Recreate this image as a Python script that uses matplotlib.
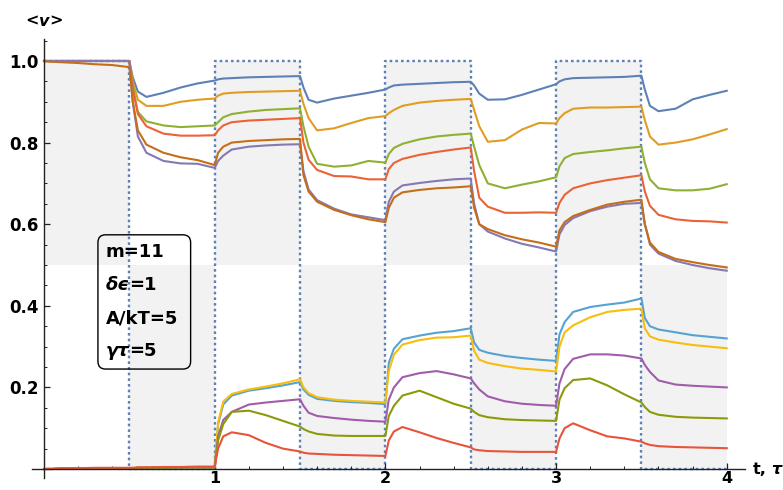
import matplotlib.pyplot as plt
import numpy as np
from matplotlib.patches import FancyBboxPatch

plt.rcParams['font.family'] = ['DejaVu Sans']
plt.rcParams['font.weight'] = 'bold'

# sample times shared by every curve
t = [0, .02, .05, .1, .2, .3, .4,
     .5, .52, .55, .6, .7, .8, .9,
     1, 1.02, 1.05, 1.1, 1.2, 1.3, 1.4,
     1.5, 1.52, 1.55, 1.6, 1.7, 1.8, 1.9,
     2, 2.02, 2.05, 2.1, 2.2, 2.3, 2.4,
     2.5, 2.52, 2.55, 2.6, 2.7, 2.8, 2.9,
     3, 3.02, 3.05, 3.1, 3.2, 3.3, 3.4,
     3.5, 3.52, 3.55, 3.6, 3.7, 3.8, 3.9,
     4]

# upper family of curves
top_blue = [1, 1, 1, 1, 1, 1, 1,
            1, .96, .925, .912, .922, .935, .945,
            .952, .955, .957, .958, .96, .961, .962,
            .963, .935, .905, .898, .908, .915, .922,
            .93, .935, .94, .942, .944, .946, .948,
            .949, .94, .92, .905, .906, .917, .93,
            .943, .95, .955, .958, .959, .96, .961,
            .964, .93, .89, .877, .883, .906, .917,
            .927]
top_orange = [1, 1, 1, 1, 1, 1, 1,
              1, .95, .905, .89, .89, .9, .905,
              .908, .915, .92, .922, .924, .925, .926,
              .927, .895, .86, .83, .835, .848, .86,
              .865, .872, .88, .89, .898, .902, .905,
              .907, .88, .84, .802, .806, .832, .848,
              .847, .86, .872, .883, .886, .886, .887,
              .888, .855, .815, .795, .8, .808, .82,
              .833]
top_green = [1, 1, 1, 1, 1, 1, 1,
             1, .94, .875, .852, .842, .838, .84,
             .842, .85, .862, .87, .876, .88, .882,
             .884, .84, .79, .748, .741, .744, .755,
             .751, .772, .787, .797, .808, .815, .819,
             .822, .79, .745, .7, .688, .697, .705,
             .715, .742, .762, .772, .777, .781, .786,
             .79, .75, .71, .688, .683, .683, .687,
             .698]
top_red = [1, 1, 1, 1, 1, 1, 1,
           1, .93, .87, .84, .822, .817, .817,
           .818, .83, .842, .85, .854, .856, .858,
           .86, .8, .758, .733, .718, .717, .71,
           .71, .735, .75, .76, .77, .777, .783,
           .788, .73, .665, .643, .628, .628, .629,
           .628, .652, .672, .688, .7, .708, .714,
           .72, .68, .645, .623, .612, .608, .607,
           .604]
top_purple = [1, 1, 1, 1, 1, 1, 1,
              1, .9, .815, .775, .755, .749, .748,
              .738, .755, .768, .783, .79, .793, .795,
              .796, .73, .685, .659, .638, .624, .617,
              .61, .655, .68, .695, .701, .706, .71,
              .712, .65, .6, .582, .565, .552, .543,
              .533, .575, .598, .615, .632, .643, .65,
              .652, .6, .55, .528, .51, .5, .492,
              .486]
top_brown = [1, .999, .998, .997, .995, .992, .99,
             .985, .9, .83, .795, .775, .764, .757,
             .745, .775, .79, .8, .804, .806, .808,
             .809, .72, .68, .655, .635, .622, .612,
             .605, .64, .665, .678, .684, .688, .69,
             .693, .64, .6, .588, .573, .563, .555,
             .545, .585, .605, .62, .635, .648, .655,
             .66, .6, .555, .532, .515, .507, .5,
             .494]

# lower family of curves
low_blue = [0, 0, 0, .001, .001, .002, .002,
            .002, .002, .003, .003, .003, .004, .004,
            .004, .11, .158, .18, .192, .198, .205,
            .213, .195, .182, .172, .167, .164, .162,
            .159, .26, .295, .318, .327, .334, .338,
            .345, .31, .292, .285, .277, .272, .268,
            .265, .33, .36, .385, .397, .403, .408,
            .418, .37, .35, .342, .335, .328, .324,
            .32]
low_gold = [0, 0, 0, .001, .001, .002, .002,
            .002, .002, .003, .003, .003, .004, .004,
            .004, .115, .165, .184, .195, .202, .21,
            .22, .2, .186, .176, .17, .167, .165,
            .163, .24, .28, .305, .316, .322, .323,
            .327, .29, .268, .26, .252, .246, .243,
            .239, .3, .335, .352, .372, .385, .39,
            .393, .345, .325, .317, .31, .304, .3,
            .296]
low_purple = [0, 0, 0, .001, .001, .002, .002,
              .002, .002, .003, .003, .003, .004, .004,
              .004, .08, .12, .14, .158, .163, .167,
              .171, .155, .138, .13, .125, .121, .118,
              .116, .17, .2, .225, .235, .24, .232,
              .222, .21, .195, .178, .166, .16, .157,
              .155, .21, .245, .27, .281, .281, .278,
              .271, .255, .238, .217, .207, .204, .202,
              .2]
low_olive = [0, 0, 0, .001, .001, .002, .002,
             .002, .002, .003, .003, .003, .004, .004,
             .004, .07, .11, .14, .143, .132, .118,
             .104, .098, .092, .086, .082, .081, .081,
             .081, .13, .155, .18, .192, .176, .16,
             .148, .14, .132, .127, .122, .12, .119,
             .118, .17, .198, .218, .222, .205, .183,
             .163, .152, .14, .133, .128, .126, .125,
             .124]
low_red = [0, .001, .001, .002, .002, .003, .003,
           .003, .003, .004, .004, .005, .005, .006,
           .006, .05, .08, .09, .083, .064, .05,
           .043, .04, .038, .037, .035, .034, .033,
           .032, .07, .092, .103, .09, .076, .064,
           .053, .048, .046, .044, .043, .042, .042,
           .042, .075, .1, .112, .095, .08, .075,
           .067, .063, .059, .056, .054, .053, .052,
           .051]

# driving pulse (on / off every half period)
pulse_t = [0, .5, 1, 1.5, 2, 2.5, 3, 3.5, 4]
pulse_v = [1, 0, 1, 0, 1, 0, 1, 0, 0]

top_curves = [top_blue, top_orange, top_green, top_red, top_purple, top_brown]
top_colors = ['#5E81B5', '#E19C24', '#8FB032', '#EB6235', '#8778B3', '#C56E1A']
low_curves = [low_blue, low_gold, low_purple, low_olive, low_red]
low_colors = ['#56A2D3', '#F7BE0C', '#A15CAB', '#8C9A0A', '#E8543B']

fig = plt.figure(figsize=(7.83, 4.9), dpi=100)
ax = fig.add_axes([0.0405, 0.0245, 0.911, 0.896])
ax.set_xlim(-0.072, 4.107)
ax.set_ylim(-0.022, 1.054)

# gray bands: upper half while the pulse is on, lower half while off
for i in range(len(pulse_t) - 1):
    x = [pulse_t[i], pulse_t[i + 1]]
    if pulse_v[i] == 1:
        ax.fill_between(x, 0.5, 1.0, color='#f2f2f2', lw=0, zorder=0)
    else:
        ax.fill_between(x, 0, 0.5, color='#f2f2f2', lw=0, zorder=0)

ax.step(pulse_t, pulse_v, where='post', color='#5E81B5',
        lw=1.7, ls=(0, (1.1, 1.3)), zorder=1)

for vals, c in zip(top_curves, top_colors):
    ax.plot(t, vals, color=c, lw=1.5, zorder=2)
for vals, c in zip(low_curves, low_colors):
    ax.plot(t, vals, color=c, lw=1.5, zorder=2)

# axes through the origin
for side in ['top', 'right']:
    ax.spines[side].set_visible(False)
ax.spines['left'].set_position(('data', 0))
ax.spines['bottom'].set_position(('data', 0))
for side in ['left', 'bottom']:
    ax.spines[side].set_color('#222222')
    ax.spines[side].set_linewidth(1.0)

ax.set_xticks([1, 2, 3, 4])
ax.set_xticklabels(['1', '2', '3', '4'], fontweight='bold', fontsize=11.5)
ax.set_xticks(np.arange(0.2, 4.01, 0.2), minor=True)
ax.set_yticks([0.2, 0.4, 0.6, 0.8, 1.0])
ax.set_yticklabels(['0.2', '0.4', '0.6', '0.8', '1.0'],
                   fontweight='bold', fontsize=12)
ax.set_yticks(np.arange(0.05, 1.051, 0.05), minor=True)
ax.tick_params(which='major', direction='in', length=4.5, width=0.9,
               color='#222222')
ax.tick_params(axis='x', which='major', pad=1.5)
ax.tick_params(axis='y', which='major', pad=4)
ax.tick_params(which='minor', direction='in', length=2.5, width=0.7,
               color='#222222')

# axis labels
v = ax.text(0, 1.098, 'v', style='italic', fontsize=11.5,
            ha='center', va='center')
ax.annotate('<', xy=(0, 0), xycoords=v, ha='right', va='bottom', fontsize=11.5)
ax.annotate('>', xy=(1, 0), xycoords=v, ha='left', va='bottom', fontsize=11.5)

tl = ax.text(4.155, 0, 't,', fontsize=11.5, ha='left', va='center')
ax.annotate('τ', xy=(1, 0), xycoords=tl, xytext=(3, 0),
            textcoords='offset points', style='italic', fontsize=11.5,
            ha='left', va='bottom')

# parameter box
box = FancyBboxPatch((0.316, 0.245), 0.543, 0.329,
                     boxstyle='round,pad=0,rounding_size=0.045',
                     mutation_aspect=0.418, fc='none', ec='black', lw=1.0,
                     transform=ax.transData, zorder=3)
ax.add_patch(box)

fs = 13
ax.text(0.36, 0.532, 'm=11', fontsize=fs, ha='left', va='center', zorder=4)
d = ax.text(0.36, 0.451, 'δϵ', style='italic', fontsize=fs,
            ha='left', va='center', zorder=4)
ax.annotate('=1', xy=(1, 0), xycoords=d, fontsize=fs,
            ha='left', va='bottom', zorder=4)
ax.text(0.36, 0.368, 'A/kT=5', fontsize=fs, ha='left', va='center', zorder=4)
g = ax.text(0.36, 0.289, 'γτ', style='italic', fontsize=fs,
            ha='left', va='center', zorder=4)
ax.annotate('=5', xy=(1, 0), xycoords=g, fontsize=fs,
            ha='left', va='bottom', zorder=4)

fig.savefig('out.png', dpi=100)
